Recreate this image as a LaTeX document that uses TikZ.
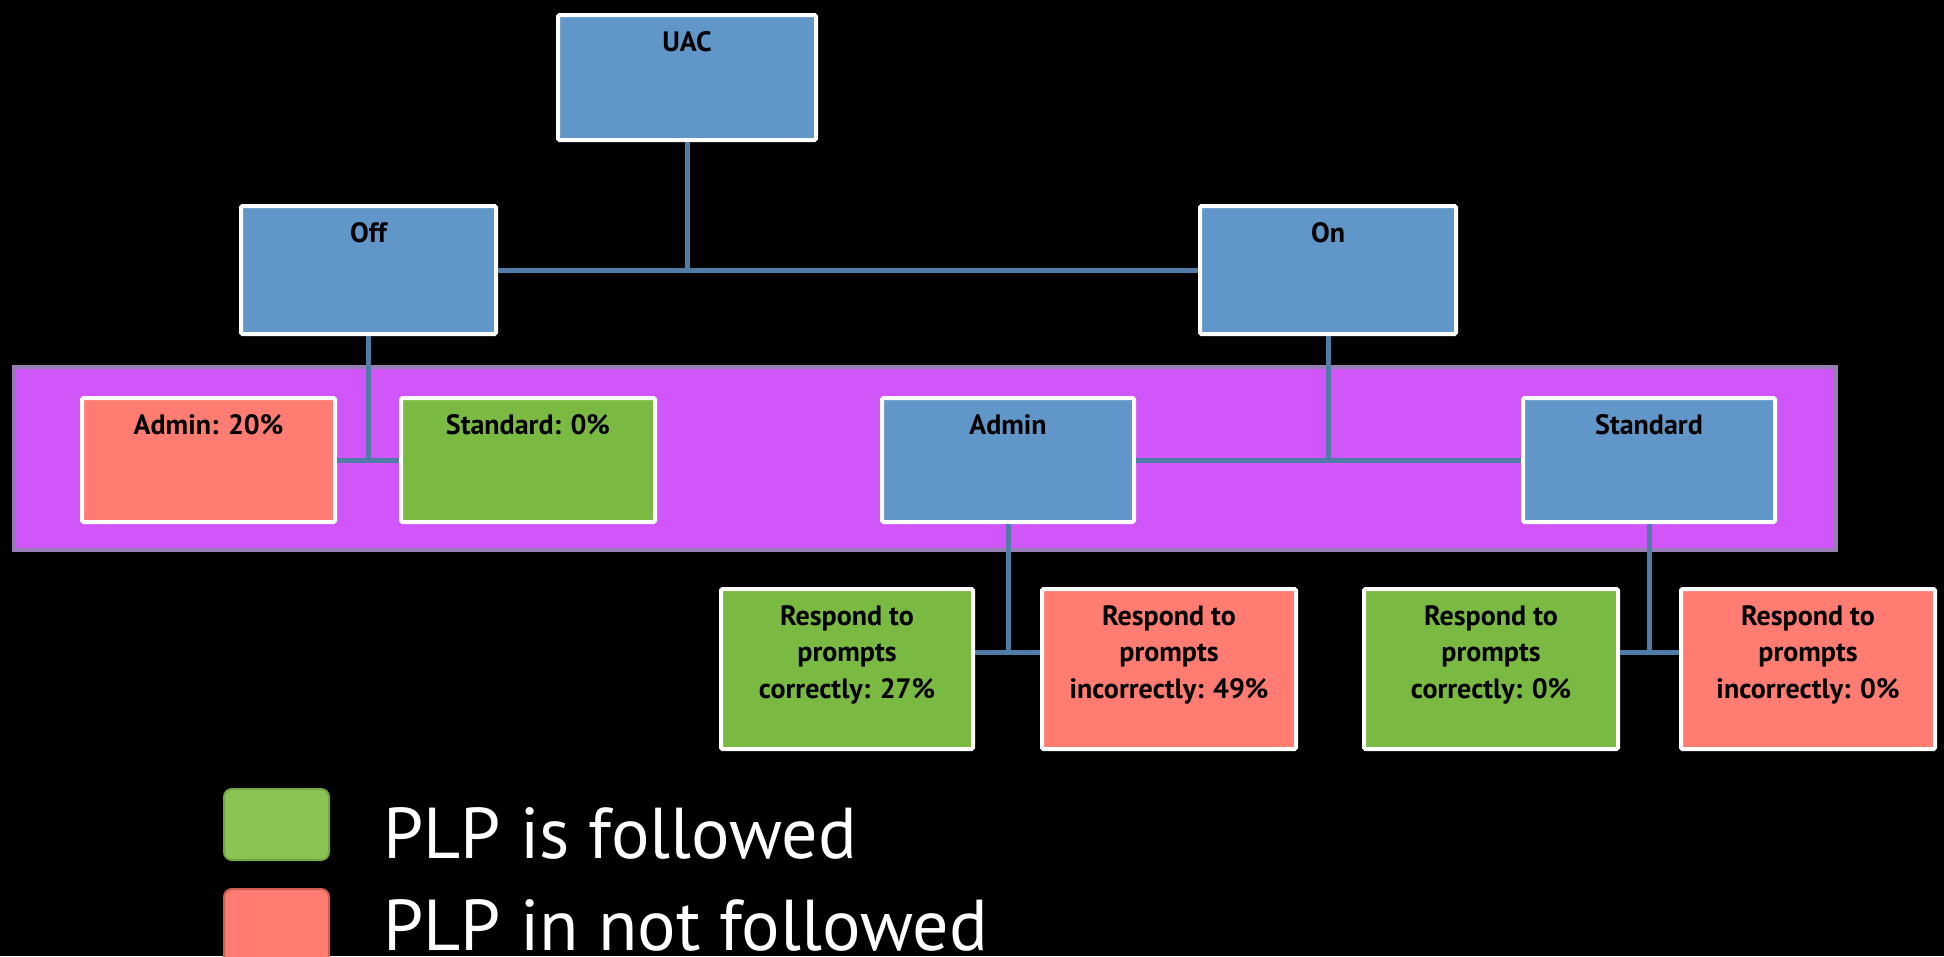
\documentclass[tikz,border=0pt]{standalone}
\usepackage{fontspec}
\setmainfont{PT Sans}
\usetikzlibrary{calc}
\definecolor{boxblue}{RGB}{97,150,200}
\definecolor{boxred}{RGB}{255,124,114}
\definecolor{boxgreen}{RGB}{122,185,66}
\definecolor{connblue}{RGB}{80,125,168}
\definecolor{bandfill}{RGB}{208,86,250}
\definecolor{banddraw}{RGB}{150,125,180}
\definecolor{leggreen}{RGB}{140,195,85}
\definecolor{leggreend}{RGB}{115,165,65}
\definecolor{legred}{RGB}{255,124,114}
\definecolor{legredd}{RGB}{205,95,85}
\tikzset{
  box/.style={draw=white, line width=4pt, rounded corners=1.5pt, anchor=north west, inner sep=0pt},
  bluebox/.style={box, fill=boxblue},
  redbox/.style={box, fill=boxred},
  greenbox/.style={box, fill=boxgreen},
  lbl/.style={anchor=north, align=center, inner sep=0pt, text=black,
    font=\bfseries\fontsize{28}{36.5}\selectfont},
  conn/.style={draw=connblue, line width=5pt},
  legsq/.style={rounded corners=8pt, line width=2pt, anchor=north west, inner sep=0pt},
  legtxt/.style={anchor=base west, inner sep=0pt, text=white, font=\fontsize{72}{90}\selectfont}
}
% name, style, x1, y1, x2, y2, text
\newcommand\mybox[7]{%
  \node[#2, minimum width={#5pt-#3pt-4pt}, minimum height={#6pt-#4pt-4pt}] (#1) at (#3+2,#4+2) {};
  \node[lbl] (#1t) at ([yshift=-16pt]#1.north) {\rule{0pt}{22pt}#7};
}
\begin{document}
\begin{tikzpicture}[x=1pt,y=-1pt]
  \fill[black] (0,0) rectangle (1944,956);
  \useasboundingbox (0,0) rectangle (1944,956);
  \clip (0,0) rectangle (1944,956);
  % purple band
  \node[draw=banddraw, fill=bandfill, line width=4pt, anchor=north west, inner sep=0pt,
        minimum width=1822pt, minimum height=183pt] (band) at (12,365) {};
  % boxes
  \mybox{uac}{bluebox}{554}{11}{816}{140}{UAC}
  \mybox{off}{bluebox}{237}{202}{496}{334}{Off}
  \mybox{on}{bluebox}{1196}{202}{1456}{334}{On}
  \mybox{a20}{redbox}{78}{394}{335}{522}{Admin: 20\%}
  \mybox{s0}{greenbox}{397}{394}{655}{522}{Standard: 0\%}
  \mybox{adm}{bluebox}{878}{394}{1134}{522}{Admin}
  \mybox{std}{bluebox}{1519}{394}{1775}{522}{Standard}
  \mybox{ac}{greenbox}{717}{585}{973}{749}{Respond to\\prompts\\correctly: 27\%}
  \mybox{ai}{redbox}{1038}{585}{1296}{749}{Respond to\\prompts\\incorrectly: 49\%}
  \mybox{sc}{greenbox}{1360}{585}{1618}{749}{Respond to\\prompts\\correctly: 0\%}
  \mybox{si}{redbox}{1677}{585}{1935}{749}{Respond to\\prompts\\incorrectly: 0\%}
  % connectors
  \coordinate (j1) at (uac.south |- off.east);
  \draw[conn] (uac.south) -- (j1);
  \draw[conn] (off.east) -- (on.west);
  \coordinate (j2) at (off.south |- a20.east);
  \draw[conn] (off.south) -- (j2);
  \draw[conn] (a20.east) -- (s0.west);
  \coordinate (j3) at (on.south |- adm.east);
  \draw[conn] (on.south) -- (j3);
  \draw[conn] (adm.east) -- (std.west);
  \coordinate (ja) at ($(ac.north east)!0.4!(ac.south east)$);
  \coordinate (jb) at (adm.south |- ja);
  \draw[conn] (adm.south) -- (jb);
  \draw[conn] (ja) -- (ai.west |- ja);
  \coordinate (jc) at ($(sc.north east)!0.4!(sc.south east)$);
  \coordinate (jd) at (std.south |- jc);
  \draw[conn] (std.south) -- (jd);
  \draw[conn] (jc) -- (si.west |- jc);
  % legend
  \node[legsq, fill=leggreen, draw=leggreend, minimum width=105pt, minimum height=71pt] (lg) at (223,788) {};
  \node[legsq, fill=legred, draw=legredd, minimum width=105pt, minimum height=80pt] (lr) at (223,888) {};
  \node[legtxt] (lgt) at (383,858) {PLP is followed};
  \node[legtxt] (lrt) at (383,950) {PLP in not followed};
\end{tikzpicture}
\end{document}
